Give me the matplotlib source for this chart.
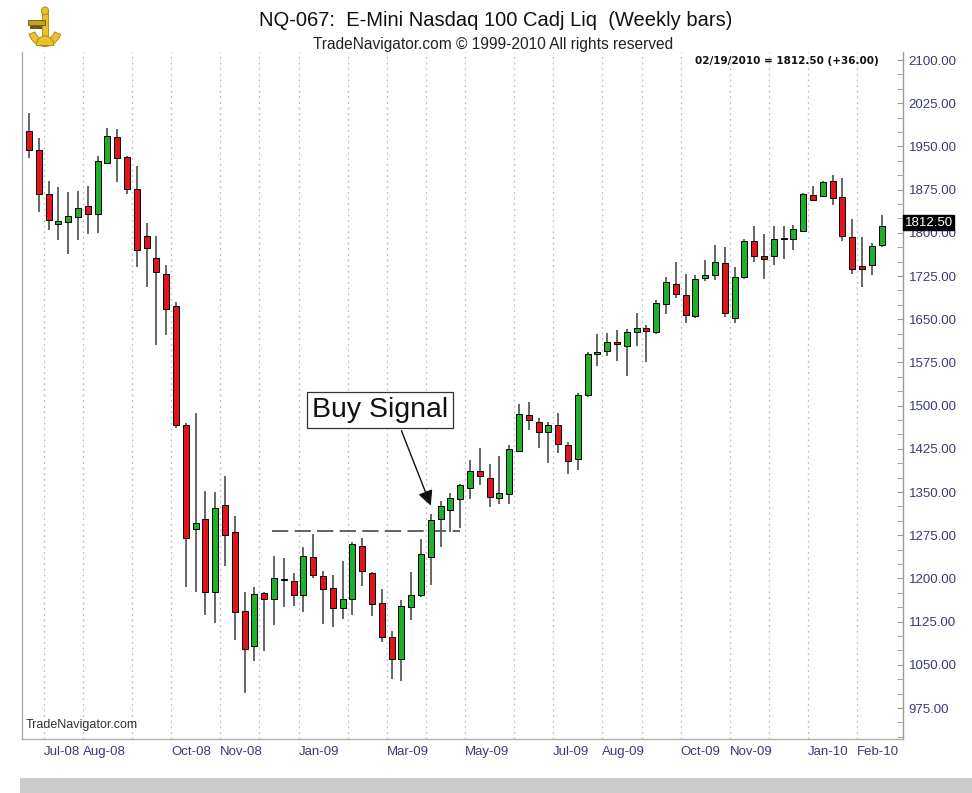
import matplotlib
matplotlib.use("Agg")
import matplotlib.pyplot as plt
import matplotlib.transforms as mtransforms
from matplotlib.patches import Wedge, Rectangle, Circle
from matplotlib.ticker import MultipleLocator, FormatStrFormatter
import numpy as np
import pandas as pd

plt.rcParams['font.family'] = ['Liberation Sans', 'DejaVu Sans']

# weekly bars, NQ e-mini, Jun-2008 .. Feb-2010
weeks = pd.date_range("2008-06-20", "2010-02-19", freq="W-FRI")

opens = [1977, 1944, 1867, 1816, 1818, 1828, 1847, 1833, 1922, 1966,
         1932, 1876, 1795, 1756, 1728, 1673, 1466, 1285, 1303, 1176,
         1328, 1281, 1143, 1083, 1174, 1164, 1197, 1196, 1172, 1237,
         1204, 1183, 1149, 1164, 1257, 1209, 1157, 1098, 1060, 1150,
         1172, 1237, 1303, 1319, 1338, 1357, 1387, 1375, 1339, 1347,
         1422, 1483, 1472, 1454, 1466, 1432, 1407, 1518, 1589, 1594,
         1611, 1604, 1627, 1634, 1627, 1676, 1712, 1692, 1656, 1721,
         1726, 1747, 1653, 1723, 1785, 1760, 1760, 1790, 1789, 1803,
         1866, 1864, 1890, 1862, 1793, 1742, 1744, 1779]
highs = [2008, 1964, 1890, 1879, 1870, 1873, 1882, 1934, 1982, 1980,
         1934, 1916, 1817, 1795, 1744, 1680, 1470, 1488, 1352, 1350,
         1378, 1309, 1176, 1186, 1177, 1239, 1235, 1210, 1254, 1277,
         1213, 1206, 1230, 1263, 1271, 1212, 1181, 1109, 1163, 1212,
         1268, 1312, 1335, 1348, 1364, 1406, 1427, 1399, 1412, 1432,
         1503, 1507, 1478, 1472, 1487, 1437, 1522, 1593, 1624, 1626,
         1631, 1633, 1660, 1640, 1683, 1724, 1749, 1728, 1727, 1753,
         1778, 1775, 1740, 1789, 1811, 1798, 1812, 1811, 1814, 1869,
         1881, 1890, 1900, 1895, 1824, 1792, 1782, 1831]
lows = [1930, 1837, 1805, 1788, 1764, 1788, 1798, 1800, 1920, 1889,
        1867, 1741, 1706, 1605, 1623, 1462, 1186, 1176, 1136, 1122,
        1222, 1094, 1002, 1057, 1074, 1119, 1151, 1152, 1141, 1200,
        1121, 1115, 1130, 1137, 1187, 1134, 1090, 1025, 1022, 1128,
        1168, 1189, 1255, 1281, 1287, 1338, 1362, 1324, 1329, 1330,
        1420, 1458, 1427, 1400, 1418, 1381, 1388, 1515, 1569, 1586,
        1578, 1552, 1604, 1575, 1625, 1659, 1686, 1644, 1652, 1717,
        1718, 1654, 1643, 1720, 1750, 1719, 1745, 1755, 1771, 1801,
        1856, 1862, 1848, 1786, 1728, 1706, 1727, 1775]
closes = [1944, 1867, 1823, 1821, 1829, 1843, 1833, 1925, 1968, 1930,
          1876, 1770, 1773, 1732, 1667, 1466, 1271, 1297, 1176, 1323,
          1275, 1141, 1077, 1173, 1164, 1201, 1198, 1172, 1239, 1206,
          1181, 1149, 1164, 1260, 1213, 1156, 1099, 1060, 1153, 1171,
          1242, 1301, 1325, 1339, 1362, 1387, 1377, 1341, 1348, 1425,
          1485, 1475, 1454, 1466, 1433, 1404, 1518, 1590, 1593, 1611,
          1607, 1628, 1635, 1630, 1679, 1715, 1693, 1657, 1720, 1727,
          1749, 1660, 1724, 1786, 1760, 1754, 1790, 1791, 1807, 1867,
          1857, 1889, 1861, 1795, 1737, 1737, 1776.5, 1812.5]

resistance = 1282
last_close = 1812.50
last_change = 36.00

opens = np.array(opens, dtype=float)
highs = np.array(highs, dtype=float)
lows = np.array(lows, dtype=float)
closes = np.array(closes, dtype=float)
xn = np.arange(len(weeks))

fig = plt.figure(figsize=(9.72, 7.93), dpi=100)
ax = fig.add_axes([22 / 972, 54 / 793, 881 / 972, 687 / 793])

# month separators
month_start = [i for i in range(1, len(weeks)) if weeks[i].month != weeks[i - 1].month]
for i in month_start:
    ax.axvline(i - 0.5, color="#bdbdbd", lw=0.9, ls=(0, (1.5, 3)), zorder=0)

# candles
up = closes >= opens
ax.vlines(xn, lows, highs, color="#5a5a5a", lw=1.3, zorder=2)
body = np.maximum(np.abs(closes - opens), 1.5)
ax.bar(xn[up], body[up], bottom=opens[up], width=0.62, color="#1fb02a",
       edgecolor="black", linewidth=0.7, zorder=3)
ax.bar(xn[~up], body[~up], bottom=closes[~up], width=0.62, color="#e3141b",
       edgecolor="black", linewidth=0.7, zorder=3)

# resistance line + buy signal
ax.hlines(resistance, 24.8, 44.0, color="#555555", lw=1.3, ls=(0, (9, 3.5)), zorder=1)
ax.text(35.8, 1492, "Buy Signal", fontsize=20.5, ha="center", va="center", color="#111111",
        bbox=dict(boxstyle="square,pad=0.18", fc="white", ec="#333333", lw=0.9), zorder=5)
ax.annotate("", xy=(41.1, 1322), xytext=(37.9, 1461),
            arrowprops=dict(arrowstyle="-|>,head_length=0.9,head_width=0.45",
                            color="#111111", lw=1.0), zorder=5)

ax.set_xlim(-0.714, 89.18)
ax.set_ylim(921.3, 2113.9)

# axes frame
ax.spines["top"].set_visible(False)
ax.spines["left"].set_color("#b0b0b0")
ax.spines["bottom"].set_color("#b0b0b0")
ax.spines["right"].set_color("#9a9a9a")
for s in ["left", "bottom", "right"]:
    ax.spines[s].set_linewidth(1.0)

# y axis on the right
ax.yaxis.tick_right()
ax.yaxis.set_major_locator(MultipleLocator(75))
ax.yaxis.set_minor_locator(MultipleLocator(25))
ax.yaxis.set_major_formatter(FormatStrFormatter("%.2f"))
ax.tick_params(axis="y", which="both", direction="in", length=4, color="#9a9a9a",
               labelsize=9.5, labelcolor="#3a3a78", pad=4)
ax.set_yticks([t for t in np.arange(975, 2101, 75)])

# x axis month labels
label_months = ["Jul-08", "Aug-08", "Oct-08", "Nov-08", "Jan-09", "Mar-09", "May-09",
                "Jul-09", "Aug-09", "Oct-09", "Nov-09", "Jan-10", "Feb-10"]
tick_pos, tick_lab = [], []
for i in month_start:
    lab = weeks[i].strftime("%b-%y")
    if lab in label_months:
        tick_pos.append(i - 0.5)
        tick_lab.append(lab)
ax.set_xticks(tick_pos)
ax.set_xticklabels(tick_lab, ha="left")
ax.tick_params(axis="x", length=0, labelsize=9.5, labelcolor="#3a3a78", pad=5)

# last price tag
trans = mtransforms.blended_transform_factory(ax.transAxes, ax.transData)
ax.text(1.002, last_close + 5, "%.2f" % last_close, transform=trans, ha="left", va="center",
        fontsize=9.5, color="white", zorder=6, clip_on=False,
        bbox=dict(boxstyle="square,pad=0.12", fc="black", ec="black"))

# texts
fig.text(496 / 972, 1 - 20 / 793, "NQ-067:  E-Mini Nasdaq 100 Cadj Liq  (Weekly bars)",
         ha="center", va="center", fontsize=14.5, color="#111111")
fig.text(493 / 972, 1 - 44 / 793, "TradeNavigator.com \u00a9 1999-2010 All rights reserved",
         ha="center", va="center", fontsize=11.2, color="#222222")
fig.text(879 / 972, 1 - 61 / 793,
         "%s = %.2f (+%.2f)" % (weeks[-1].strftime("%m/%d/%Y"), last_close, last_change),
         ha="right", va="center", fontsize=7.5, fontweight="bold", color="#111111",
         family="DejaVu Sans")
ax.text(0.004, 0.012, "TradeNavigator.com", transform=ax.transAxes, fontsize=9,
        color="#333333", ha="left", va="bottom")

# gray strip at the bottom
fig.patches.append(Rectangle((20 / 972, 0), 1, 15 / 793, transform=fig.transFigure,
                             fc="#cccccc", ec="none"))

# little gold logo
lax = fig.add_axes([24 / 972, 1 - 50 / 793, 40 / 972, 44 / 793])
lax.set_xlim(0, 10)
lax.set_ylim(0, 10)
lax.axis("off")
gold, dark = "#e8c22a", "#a8820c"
lax.add_patch(Wedge((5.2, 5.0), 4.2, 200, 340, width=1.6, fc=gold, ec=dark, lw=0.6))
lax.add_patch(Rectangle((4.5, 1.2), 1.5, 7.4, fc=gold, ec=dark, lw=0.6))
lax.add_patch(Rectangle((1.0, 5.6), 4.2, 1.2, fc="#c9a21a", ec="#6a5208", lw=0.6))
lax.add_patch(Rectangle((1.4, 4.7), 3.0, 0.8, fc="#6a5a20", ec="none"))
lax.add_patch(Circle((5.25, 8.9), 0.9, fc=gold, ec=dark, lw=0.6))
lax.add_patch(Wedge((5.25, 1.0), 2.2, 0, 180, fc=gold, ec=dark, lw=0.6))

fig.savefig("out.png", dpi=100)
